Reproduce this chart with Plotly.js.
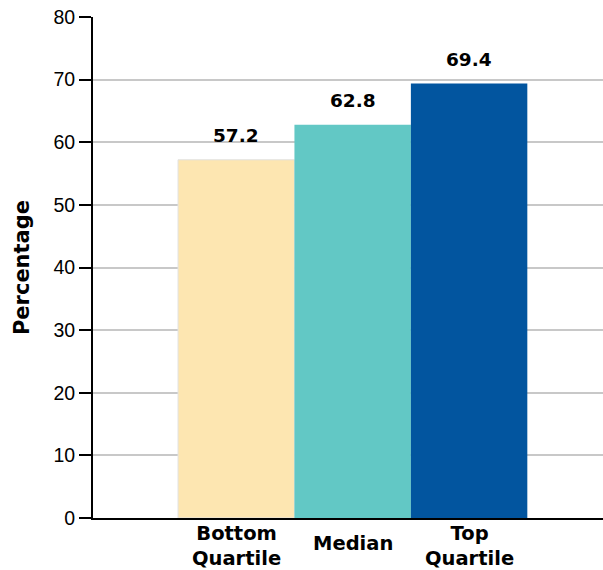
<!DOCTYPE html>
<html>
<head>
<meta charset="utf-8">
<script src="https://cdn.plot.ly/plotly-3.0.1.min.js"></script>
<style>html,body{margin:0;padding:0;background:#fff;}#chart{width:603px;height:570px;}</style>
</head>
<body>
<div id="chart"></div>
<script>
const categories = ["Bottom<br>Quartile", "Median", "Top<br>Quartile"];
const values = [57.2, 62.8, 69.4];
const valueLabels = ["57.2", "62.8", "69.4"];
const barColors = ["#FDE6B1", "#62C8C5", "#02559F"];
const yTicks = [0, 10, 20, 30, 40, 50, 60, 70, 80];

const positions = categories.map((c, i) => i);
const font = "Liberation Sans, Arial, Helvetica, sans-serif";
const boldFont = "DejaVu Sans, sans-serif";

const trace = {
  type: "bar",
  x: positions,
  y: values,
  width: 1,
  marker: {color: barColors, line: {color: ["#e2e2e2", "rgba(0,0,0,0)", "rgba(0,0,0,0)"], width: 1}},
  hoverinfo: "none"
};

const catAnnotations = categories.map((c, i) => ({
  x: positions[i], xref: "x", y: 0, yref: "paper",
  yshift: c.indexOf("<br>") >= 0 ? -28 : -25,
  text: "<b>" + c + "</b>",
  showarrow: false,
  xanchor: "center", yanchor: "middle",
  font: {family: boldFont, size: 19.5, color: "#000"}
}));

const valAnnotations = values.map((v, i) => ({
  x: positions[i], xref: "x", y: v, yref: "y",
  yshift: 24,
  text: "<b>" + valueLabels[i] + "</b>",
  showarrow: false,
  xanchor: "center", yanchor: "middle",
  font: {family: boldFont, size: 18.5, color: "#000"}
}));

const layout = {
  width: 603, height: 570,
  margin: {l: 93, r: 0, t: 17, b: 52},
  paper_bgcolor: "#fff", plot_bgcolor: "#fff",
  showlegend: false,
  bargap: 0,
  xaxis: {
    range: [-1.23, 3.15],
    showticklabels: false,
    showgrid: false, zeroline: false,
    showline: true, linecolor: "#000", linewidth: 2,
    ticks: "", fixedrange: true
  },
  yaxis: {
    range: [0, 80],
    tickvals: yTicks,
    ticktext: yTicks.map(String),
    ticks: "outside", ticklen: 12, tickwidth: 2, tickcolor: "#000",
    showline: true, linecolor: "#000", linewidth: 2,
    showgrid: true, gridcolor: "#c8c8c8", gridwidth: 2,
    zeroline: false,
    tickfont: {family: font, size: 19.5, color: "#000"},
    title: {text: "<b>Percentage</b>", font: {family: boldFont, size: 21, color: "#000"}, standoff: 18},
    fixedrange: true
  },
  annotations: catAnnotations.concat(valAnnotations)
};

Plotly.newPlot("chart", [trace], layout, {staticPlot: true, displayModeBar: false});
</script>
</body>
</html>
